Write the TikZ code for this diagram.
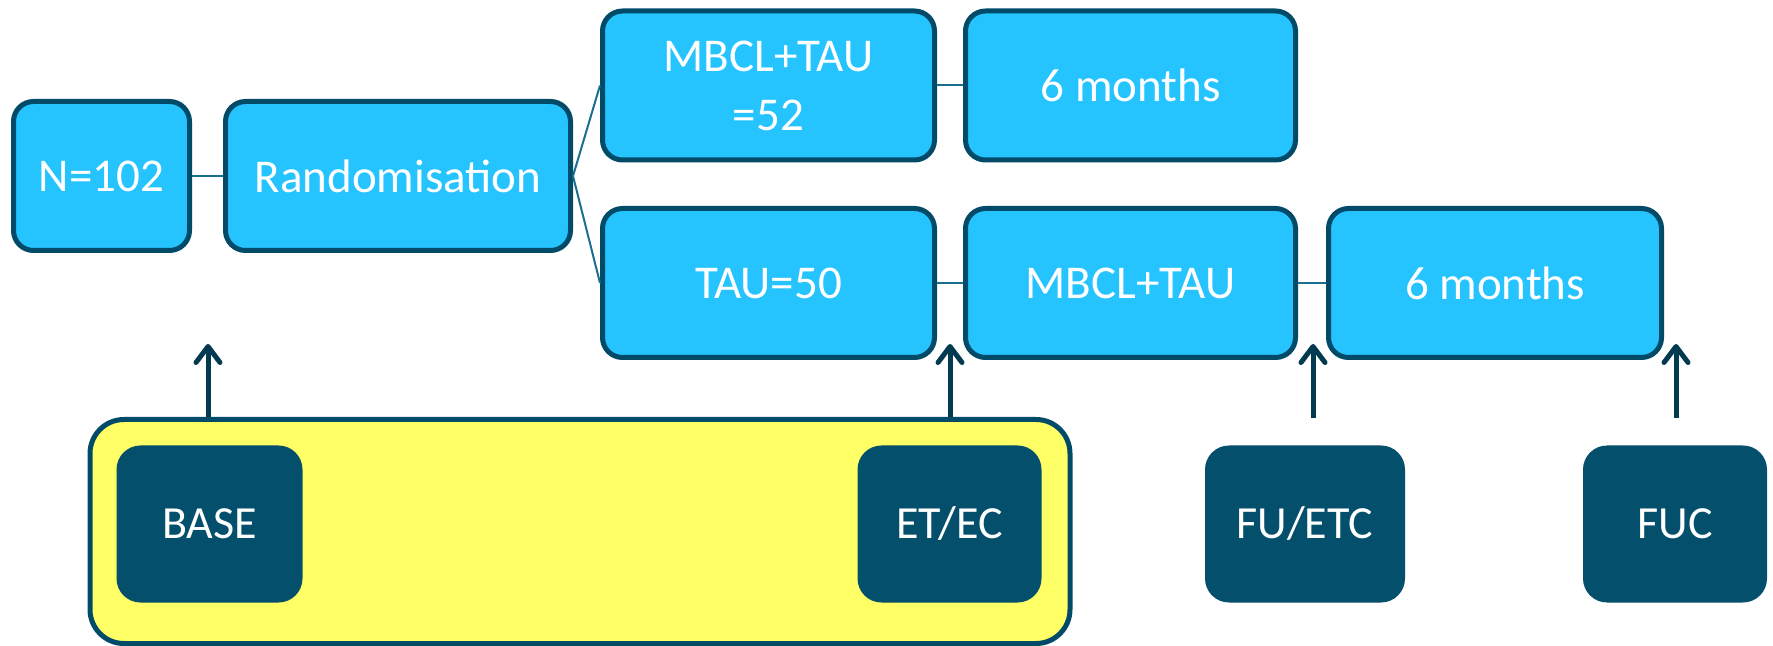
\documentclass[tikz,border=0pt]{standalone}
\usepackage{fontspec}
\setmainfont{Carlito}
\usetikzlibrary{arrows.meta}

\definecolor{boxblue}{HTML}{26C4FF}
\definecolor{boxedge}{HTML}{024B68}
\definecolor{darkbox}{HTML}{034F6C}
\definecolor{hiyellow}{HTML}{FFFF66}
\definecolor{linkteal}{HTML}{1A6E8E}
\definecolor{arrowdark}{HTML}{023B50}

\begin{document}
\begin{tikzpicture}[x=0.5pt,y=-0.5pt,
  stage/.style={draw=boxedge, fill=boxblue, line width=2.5pt,
    rounded corners=10pt, text=white, align=center, inner sep=0pt,
    font=\fontsize{23.5}{29.5}\selectfont, minimum height=74.5pt},
  assess/.style={fill=darkbox, rounded corners=12pt, text=white,
    inner sep=0pt, font=\fontsize{23}{28}\selectfont, minimum height=78.5pt},
  window/.style={draw=boxedge, fill=hiyellow, line width=2.5pt,
    rounded corners=17pt, inner sep=0pt},
  link/.style={draw=linkteal, line width=1pt},
  marker/.style={draw=arrowdark, line width=2.5pt,
    -{Straight Barb[length=8pt,width=12pt,round]}}
]
\useasboundingbox (0,0) rectangle (1773,646);

% assessment window behind BASE and ET/EC
\node[window, minimum width=490pt, minimum height=112pt] (win) at (580,531.5) {};

% study flow
\node[stage, minimum width=88pt]  (n)    at (101.5,176) {N=102};
\node[stage, minimum width=172.5pt] (rand) at (398,176) {Randomisation};
\node[stage, minimum width=166pt] (mbcl) at (768.5,85.5) {MBCL+TAU\\=52};
\node[stage, minimum width=165pt] (sixa) at (1130.5,85.5) {6 months};
\node[stage, minimum width=166pt] (tau)  at (768.5,283) {TAU=50};
\node[stage, minimum width=165pt] (cross) at (1130.5,283) {MBCL+TAU};
\node[stage, minimum width=166.5pt] (sixb) at (1495,283) {6 months};

\draw[link] (n.east) -- (rand.west);
\draw[link] (rand.east) -- (mbcl.west);
\draw[link] (rand.east) -- (tau.west);
\draw[link] (mbcl.east) -- (sixa.west);
\draw[link] (tau.east) -- (cross.west);
\draw[link] (cross.east) -- (sixb.west);

% assessment points
\node[assess, minimum width=93pt] (base) at (209.5,524) {BASE};
\node[assess, minimum width=92pt] (etec) at (949.5,524) {ET/EC};
\node[assess, minimum width=100pt] (fuetc) at (1305,524) {FU/ETC};
\node[assess, minimum width=92pt] (fuc) at (1675,524) {FUC};

\coordinate (tbase) at (208,344);
\coordinate (tetec) at (950,344);
\coordinate (tfu)   at (1313,344);
\coordinate (tfuc)  at (1676,344);
\coordinate (sfu)   at (1313,418);
\coordinate (sfuc)  at (1676,418);

\draw[marker] (tbase |- win.north) -- (tbase);
\draw[marker] (tetec |- win.north) -- (tetec);
\draw[marker] (sfu) -- (tfu);
\draw[marker] (sfuc) -- (tfuc);
\end{tikzpicture}
\end{document}
